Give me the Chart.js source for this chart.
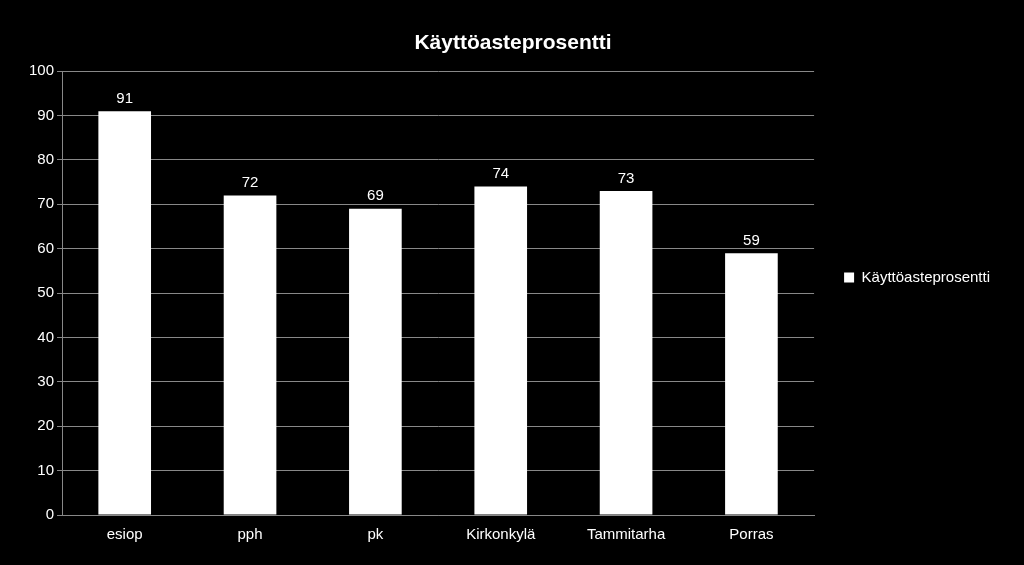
<!DOCTYPE html>
<html>
<head>
<meta charset="utf-8">
<script src="https://cdn.jsdelivr.net/npm/chart.js@4"></script>
<style>
  html, body { margin: 0; padding: 0; background: #000; }
  #wrap { width: 1024px; height: 565px; }
</style>
</head>
<body>
<div id="wrap"><canvas id="c" width="1024" height="565"></canvas></div>
<script>
const categories = ["esiop", "pph", "pk", "Kirkonkylä", "Tammitarha", "Porras"];
const values = [91, 72, 69, 74, 73, 59];
const seriesName = "Käyttöasteprosentti";

// value labels above bars
const barLabels = {
  id: "barLabels",
  afterDatasetsDraw(chart) {
    const ctx = chart.ctx;
    ctx.save();
    ctx.fillStyle = "#fff";
    ctx.font = "15px 'Liberation Sans', Arial";
    ctx.textAlign = "center";
    ctx.textBaseline = "bottom";
    chart.getDatasetMeta(0).data.forEach((bar, i) => {
      ctx.fillText(values[i], bar.x, bar.y - 5);
    });
    ctx.restore();
  }
};

new Chart(document.getElementById("c"), {
  type: "bar",
  data: {
    labels: categories,
    datasets: [{ label: seriesName, data: values, backgroundColor: "#fff", borderColor: "#000", borderWidth: 0 }]
  },
  options: {
    responsive: false,
    animation: false,
    layout: { padding: { left: 26, right: 24, top: 8, bottom: 18 } },
    datasets: { bar: { barPercentage: 0.42, categoryPercentage: 1 } },
    plugins: {
      title: {
        display: true, text: seriesName, color: "#fff",
        font: { family: "'Liberation Sans', Arial", size: 21, weight: "bold" },
        padding: { top: 23, bottom: 15 }
      },
      legend: {
        position: "right",
        labels: {
          color: "#fff", boxWidth: 10, boxHeight: 10, padding: 30,
          font: { family: "'Liberation Sans', Arial", size: 15 }
        }
      },
      tooltip: { enabled: false }
    },
    scales: {
      x: {
        grid: { display: false, drawTicks: true },
        border: { color: "#888" },
        ticks: { color: "#fff", font: { family: "'Liberation Sans', Arial", size: 15 } }
      },
      y: {
        min: 0, max: 100,
        grid: { color: "#888", tickLength: 5 },
        border: { color: "#888" },
        ticks: { stepSize: 10, color: "#fff", font: { family: "'Liberation Sans', Arial", size: 15 } }
      }
    }
  },
  plugins: [barLabels]
});
</script>
</body>
</html>
